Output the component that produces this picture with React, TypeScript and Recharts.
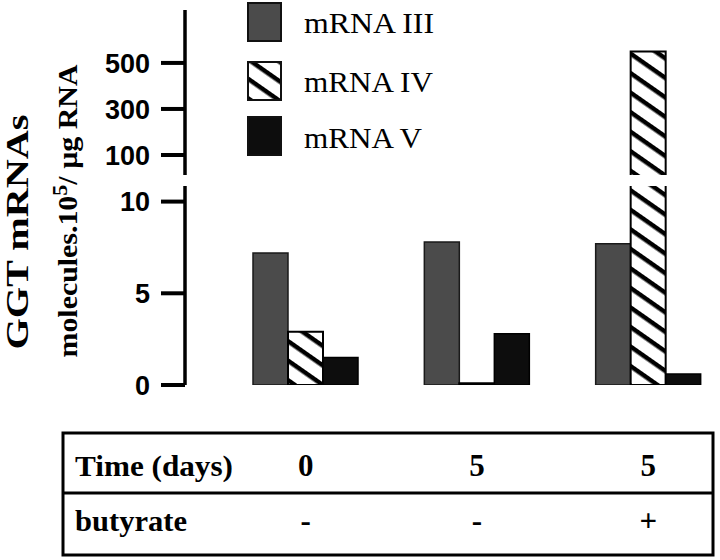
import React from 'react';
import { BarChart, Bar, XAxis, YAxis } from 'recharts';

// ---- data ----
const categories = ['0 days', '5 days', '5 days + butyrate'];
const mRNA3 = [7.2, 7.8, 7.7];
const mRNA4 = [2.9, 0.1, 550];
const mRNA5 = [1.5, 2.8, 0.6];
const timeLabels = ['0', '5', '5'];
const butyrateLabels = ['-', '-', '+'];
const upperTicks = [100, 300, 500];
const lowerTicks = [0, 5, 10];
const seriesNames = ['mRNA III', 'mRNA IV', 'mRNA V'];
const breakValue = 10;

const data = categories.map((c, i) => ({ cat: c, iii: mRNA3[i], iv: mRNA4[i], v: mRNA5[i] }));
const upperData = categories.map((c, i) => ({
  cat: c,
  iii: null,
  iv: mRNA4[i] > breakValue ? mRNA4[i] : null,
  v: null,
}));

const W = 740;
const MARGIN_LEFT = 85;
const YAXIS_W = 100;
const MARGIN_RIGHT = 6;
const XPAD = { left: 35, right: 0 };
const SERIF = '"Liberation Serif", "Times New Roman", serif';
const SANS = '"Liberation Sans", Arial, sans-serif';

const tickStyle = { fontSize: 27, fontWeight: 700, fill: '#000', fontFamily: SANS };

const Hatch = ({ id }: { id: string }) => (
  <defs>
    <pattern id={id} patternUnits="userSpaceOnUse" width={16} height={16} patternTransform="rotate(35)">
      <rect x={0} y={0} width={16} height={16} fill="#fff" />
      <rect x={0} y={0} width={16} height={4.5} fill="#000" />
    </pattern>
  </defs>
);

const BrokenTopShape = (p: any) => {
  const { x, y, width, height } = p;
  if (!width || !height) return null;
  return (
    <g>
      <rect x={x} y={y} width={width} height={height} fill="url(#hatchU)" />
      <path
        d={`M${x},${y + height} V${y} H${x + width} V${y + height}`}
        fill="none"
        stroke="#000"
        strokeWidth={2}
      />
    </g>
  );
};

const TableTick = (p: any) => {
  const { x, payload } = p;
  const i = payload.index;
  return (
    <g>
      <text x={x} y={476} textAnchor="middle" fontFamily={SERIF} fontWeight={700} fontSize={31} fill="#000">
        {timeLabels[i]}
      </text>
      <text x={x} y={531} textAnchor="middle" fontFamily={SERIF} fontWeight={700} fontSize={31} fill="#000">
        {butyrateLabels[i]}
      </text>
    </g>
  );
};

const legendY = [3, 62, 117];
const legendBase = [33, 92, 148];
const legendLen = [130, 129, 118];

export default function App() {
  return (
    <div
      style={{
        position: 'absolute',
        left: 0,
        top: 0,
        width: 720,
        height: 560,
        overflow: 'hidden',
        background: '#fff',
      }}
    >
      {/* table frame and static labels */}
      <svg width={720} height={560} style={{ position: 'absolute', left: 0, top: 0 }}>
        <Hatch id="hatchL" />
        <rect x={63} y={433} width={650} height={122} fill="none" stroke="#000" strokeWidth={3} />
        <line x1={63} y1={493} x2={713} y2={493} stroke="#000" strokeWidth={3} />
        <text x={75} y={476} fontFamily={SERIF} fontWeight={700} fontSize={30} textLength={158} lengthAdjust="spacingAndGlyphs">
          Time (days)
        </text>
        <text x={75} y={531} fontFamily={SERIF} fontWeight={700} fontSize={30} textLength={112} lengthAdjust="spacingAndGlyphs">
          butyrate
        </text>
        {/* y-axis title */}
        <text
          x={28}
          y={232}
          transform="rotate(-90 28 232)"
          textAnchor="middle"
          fontFamily={SERIF}
          fontWeight={700}
          fontSize={31}
          textLength={235}
          lengthAdjust="spacingAndGlyphs"
        >
          GGT mRNAs
        </text>
        <text
          x={77}
          y={211}
          transform="rotate(-90 77 211)"
          textAnchor="middle"
          fontFamily={SERIF}
          fontWeight={700}
          fontSize={27}
          textLength={293}
          lengthAdjust="spacingAndGlyphs"
        >
          molecules.10<tspan dy={-10} fontSize={20}>5</tspan>
          <tspan dy={10}>/ µg RNA</tspan>
        </text>
        {/* legend */}
        {seriesNames.map((n, i) => (
          <g key={n}>
            <rect
              x={248}
              y={legendY[i]}
              width={33}
              height={38}
              fill={i === 0 ? '#4b4b4b' : i === 1 ? 'url(#hatchL)' : '#0d0d0d'}
              stroke="#111"
              strokeWidth={2}
            />
            <text
              x={304}
              y={legendBase[i]}
              fontFamily={SERIF}
              fontSize={29}
              textLength={legendLen[i]}
              lengthAdjust="spacingAndGlyphs"
            >
              {n}
            </text>
          </g>
        ))}
      </svg>

      {/* upper (broken) panel */}
      <div style={{ position: 'absolute', left: 0, top: 0 }}>
        <BarChart
          width={W}
          height={180}
          data={upperData}
          margin={{ top: 10, right: MARGIN_RIGHT, bottom: 5, left: MARGIN_LEFT }}
          barGap={0}
          barSize={35}
        >
          <Hatch id="hatchU" />
          <XAxis dataKey="cat" hide padding={XPAD} />
          <YAxis
            width={YAXIS_W}
            domain={[13, 730]}
            ticks={upperTicks}
            allowDataOverflow
            tick={tickStyle}
            tickSize={24}
            tickMargin={11}
            axisLine={{ stroke: '#000', strokeWidth: 3.5 }}
            tickLine={{ stroke: '#000', strokeWidth: 4 }}
          />
          <Bar dataKey="iii" fill="transparent" isAnimationActive={false} />
          <Bar dataKey="iv" shape={BrokenTopShape} isAnimationActive={false} />
          <Bar dataKey="v" fill="transparent" isAnimationActive={false} />
        </BarChart>
      </div>

      {/* lower panel */}
      <div style={{ position: 'absolute', left: 0, top: 0 }}>
        <BarChart
          width={W}
          height={560}
          data={data}
          margin={{ top: 186, right: MARGIN_RIGHT, bottom: 5, left: MARGIN_LEFT }}
          barGap={0}
          barSize={35}
        >
          <Hatch id="hatchB" />
          <XAxis
            dataKey="cat"
            height={170}
            padding={XPAD}
            axisLine={false}
            tickLine={false}
            tick={TableTick}
            interval={0}
          />
          <YAxis
            width={YAXIS_W}
            domain={[0, 10.85]}
            ticks={lowerTicks}
            allowDataOverflow
            tick={tickStyle}
            tickSize={24}
            tickMargin={11}
            axisLine={{ stroke: '#000', strokeWidth: 3.5 }}
            tickLine={{ stroke: '#000', strokeWidth: 4 }}
          />
          <Bar dataKey="iii" fill="#4b4b4b" stroke="#1a1a1a" strokeWidth={1.5} isAnimationActive={false} />
          <Bar dataKey="iv" fill="url(#hatchB)" stroke="#000" strokeWidth={2} isAnimationActive={false} />
          <Bar dataKey="v" fill="#0d0d0d" stroke="#000" strokeWidth={1.5} isAnimationActive={false} />
        </BarChart>
      </div>
    </div>
  );
}
